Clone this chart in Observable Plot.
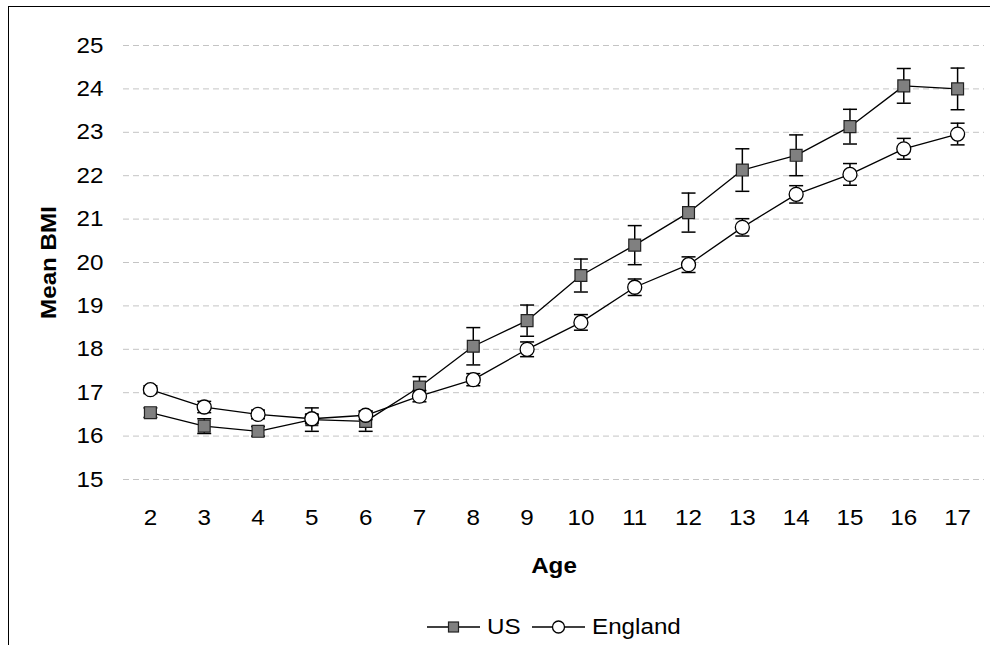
<!DOCTYPE html>
<html><head><meta charset="utf-8">
<script src="https://cdn.jsdelivr.net/npm/d3@7"></script>
<script src="https://cdn.jsdelivr.net/npm/@observablehq/plot@0.6"></script>
<style>
body{margin:0;background:#fff;font-family:"Liberation Sans",Arial,sans-serif;}
#wrap{position:relative;width:990px;height:645px;overflow:hidden;background:#fff;}
#frame{position:absolute;left:8px;top:6px;width:1100px;height:800px;border-left:1px solid #000;border-top:1px solid #000;}
#chart{position:absolute;left:0;top:0;}
#legend{position:absolute;top:612px;left:427px;display:flex;align-items:center;height:30px;font-size:22px;color:#000;white-space:nowrap;}
#legend .lab{display:inline-block;transform:scaleX(1.1);transform-origin:left center;}
</style></head><body>
<div id="wrap"><div id="frame"></div><div id="chart"></div><div id="legend"></div></div>
<script>
const ages = [2,3,4,5,6,7,8,9,10,11,12,13,14,15,16,17];
const usMean = [16.54,16.23,16.11,16.38,16.34,17.13,18.07,18.66,19.70,20.40,21.15,22.13,22.47,23.13,24.07,24.00];
const usErr  = [0.11,0.17,0.11,0.27,0.23,0.24,0.43,0.36,0.38,0.45,0.45,0.49,0.47,0.40,0.40,0.48];
const engMean = [17.07,16.67,16.50,16.40,16.48,16.92,17.30,18.00,18.62,19.43,19.95,20.81,21.57,22.03,22.62,22.96];
const engErr  = [0.09,0.13,0.10,0.10,0.10,0.13,0.14,0.17,0.18,0.19,0.18,0.20,0.20,0.25,0.24,0.25];
const yTicks = [15,16,17,18,19,20,21,22,23,24,25];
const seriesNames = ["US","England"];
const xTitle = "Age";
const yTitle = "Mean BMI";

const us = ages.map((a,i)=>({age:a, bmi:usMean[i], err:usErr[i]}));
const eng = ages.map((a,i)=>({age:a, bmi:engMean[i], err:engErr[i]}));

const capSymbol = {draw(ctx, size){ const r = Math.sqrt(size/Math.PI); ctx.moveTo(-r,0); ctx.lineTo(r,0); }};

function errorMarks(data){
  return [
    Plot.ruleX(data, {x:"age", y1:d=>d.bmi-d.err, y2:d=>d.bmi+d.err, stroke:"#000", strokeWidth:1.5}),
    Plot.dot(data, {x:"age", y:d=>d.bmi+d.err, symbol:capSymbol, r:7, stroke:"#000", strokeWidth:1.5, fill:"none"}),
    Plot.dot(data, {x:"age", y:d=>d.bmi-d.err, symbol:capSymbol, r:7, stroke:"#000", strokeWidth:1.5, fill:"none"})
  ];
}

const chart = Plot.plot({
  width: 990, height: 600,
  marginLeft: 123, marginRight: 6, marginTop: 45, marginBottom: 121,
  style: {fontFamily:'"Liberation Sans", Arial, sans-serif', fontSize:"22px", color:"#000", background:"transparent"},
  x: {type:"point", domain: ages, padding: 0.5, round: false},
  y: {domain:[15,25]},
  marks: [
    Plot.gridY(yTicks, {stroke:"#c4c4c4", strokeOpacity:1, strokeWidth:1, strokeDasharray:"6 4"}),
    Plot.axisY(yTicks, {tickSize:0, tickPadding:20, fontSize:22, label:null}),
    Plot.axisX(ages, {tickSize:0, tickPadding:30, fontSize:22, label:null}),
    Plot.text([xTitle], {text:d=>d, frameAnchor:"bottom", dy:86, lineAnchor:"middle", fontWeight:"bold", fontSize:22}),
    Plot.text([yTitle], {text:d=>d, frameAnchor:"left", dx:-75, rotate:-90, textAnchor:"middle", lineAnchor:"middle", fontWeight:"bold", fontSize:22}),
    Plot.line(us, {x:"age", y:"bmi", stroke:"#000", strokeWidth:1.3}),
    ...errorMarks(us),
    Plot.dot(us, {x:"age", y:"bmi", symbol:"square", r:6.7, fill:"#808080", stroke:"#222", strokeWidth:1.2}),
    Plot.line(eng, {x:"age", y:"bmi", stroke:"#000", strokeWidth:1.3}),
    ...errorMarks(eng),
    Plot.dot(eng, {x:"age", y:"bmi", symbol:"circle", r:7, fill:"#fff", stroke:"#000", strokeWidth:1.3})
  ]
});

// widen glyphs slightly (along the reading direction) to match the reference's wider typeface
chart.querySelectorAll("text").forEach(t => {
  let tr = t.getAttribute("transform") || "";
  const x = t.getAttribute("x");
  if (x !== null && /^-?[\d.]+$/.test(x.trim())) {
    tr += ` translate(${x},0)`;
    t.removeAttribute("x");
  }
  t.setAttribute("transform", (tr + " scale(1.1,1)").trim());
});
document.getElementById("chart").appendChild(chart);

// legend
const legend = document.getElementById("legend");
const ns = "http://www.w3.org/2000/svg";
seriesNames.forEach((name, i) => {
  const s = document.createElementNS(ns, "svg");
  s.setAttribute("width", 53); s.setAttribute("height", 20);
  s.style.marginLeft = i === 0 ? "0px" : "14px";
  s.style.marginRight = "7px";
  const ln = document.createElementNS(ns, "line");
  ln.setAttribute("x1", 0); ln.setAttribute("x2", 53); ln.setAttribute("y1", 10); ln.setAttribute("y2", 10);
  ln.setAttribute("stroke", "#000"); ln.setAttribute("stroke-width", 1.3);
  s.appendChild(ln);
  let m;
  if (i === 0) {
    m = document.createElementNS(ns, "rect");
    m.setAttribute("x", 21.5); m.setAttribute("y", 5); m.setAttribute("width", 10); m.setAttribute("height", 10);
    m.setAttribute("fill", "#808080"); m.setAttribute("stroke", "#222"); m.setAttribute("stroke-width", 1.2);
  } else {
    m = document.createElementNS(ns, "circle");
    m.setAttribute("cx", 26.5); m.setAttribute("cy", 10); m.setAttribute("r", 6);
    m.setAttribute("fill", "#fff"); m.setAttribute("stroke", "#000"); m.setAttribute("stroke-width", 1.3);
  }
  s.appendChild(m);
  legend.appendChild(s);
  const lab = document.createElement("span");
  lab.className = "lab"; lab.textContent = name;
  legend.appendChild(lab);
});
</script>
</body></html>
